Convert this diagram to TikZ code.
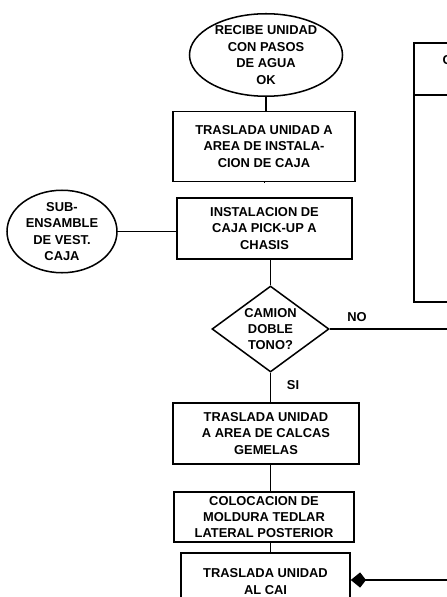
\documentclass[tikz,border=0pt]{standalone}
\usepackage{fontspec}
\newfontfamily\flowfont{Liberation Sans}
\usetikzlibrary{shapes.geometric,arrows.meta}

\begin{document}
\begin{tikzpicture}[x=0.03cm,y=-0.03cm,
  every node/.style={font=\flowfont\bfseries\fontsize{11}{14}\selectfont,align=center},
  caja/.style={draw,line width=1.3pt,inner sep=0pt},
  elipse/.style={draw,ellipse,line width=1.3pt,inner sep=0pt},
  rombo/.style={draw,diamond,line width=1.3pt,inner sep=0pt,aspect=1.36},
  linea/.style={line width=1.3pt}]

% Frame
\useasboundingbox (0,0) rectangle (446,597);

% Start
\node[elipse,minimum width=4.59cm,minimum height=2.4cm] (recibe) at (266,55)
  {RECIBE UNIDAD\\CON PASOS\\DE AGUA\\OK};

% Steps
\node[caja,minimum width=5.46cm,minimum height=2.1cm] (traslada) at (264,146.5)
  {TRASLADA UNIDAD A\\AREA DE INSTALA-\\CION DE CAJA};
\node[caja,minimum width=5.25cm,minimum height=1.83cm] (instala) at (264.5,228.5)
  {INSTALACION DE\\CAJA PICK-UP A\\CHASIS};
\node[elipse,minimum width=3.3cm,minimum height=2.19cm] (sub) at (62,231.5)
  {SUB-\\ENSAMBLE\\DE VEST.\\CAJA};

% Decision
\node[rombo,minimum width=3.51cm,minimum height=2.58cm] (tono) at (270.5,329)
  {CAMION\\DOBLE\\TONO?};
\node (no) at (357,317) {NO};
\node (si) at (293,385) {SI};

\node[caja,minimum width=5.58cm,minimum height=1.83cm] (calcas) at (266,433.5)
  {TRASLADA UNIDAD\\A AREA DE CALCAS\\GEMELAS};
\node[caja,minimum width=5.4cm,minimum height=1.5cm] (moldura) at (264,517)
  {COLOCACION DE\\MOLDURA TEDLAR\\LATERAL POSTERIOR};
\node[caja,minimum width=5.07cm,minimum height=1.71cm] (cai) at (265.5,581.5)
  {TRASLADA UNIDAD\\AL CAI};

% Right panel
\draw[linea] (414,43) rectangle (480,302);
\draw[linea] (414,95) -- (480,95);
\node[anchor=west,inner sep=0pt] (titulo) at (442.5,60) {C};

% Connectors
\coordinate (salida) at (470,329);
\coordinate (regreso) at (470,580);
\draw[linea] (recibe.south) -- (recibe.south |- traslada.north);
\draw[linea] (traslada.south) -- (traslada.south -| instala.north);
\draw[linea] (sub.east) -- (sub.east -| instala.west);
\draw[linea] (tono.north |- instala.south) -- (tono.north);
\draw[linea] (tono.east) -- (salida);
\draw[linea] (tono.south) -- (tono.south |- calcas.north);
\draw[linea] (tono.south |- calcas.south) -- (tono.south |- moldura.north);
\draw[linea] (tono.south |- moldura.south) -- (tono.south |- cai.north);
\draw[linea,-{Kite[length=13pt,width=13pt,inset=5pt]}] (regreso) -- (regreso -| cai.east);

\end{tikzpicture}
\end{document}
